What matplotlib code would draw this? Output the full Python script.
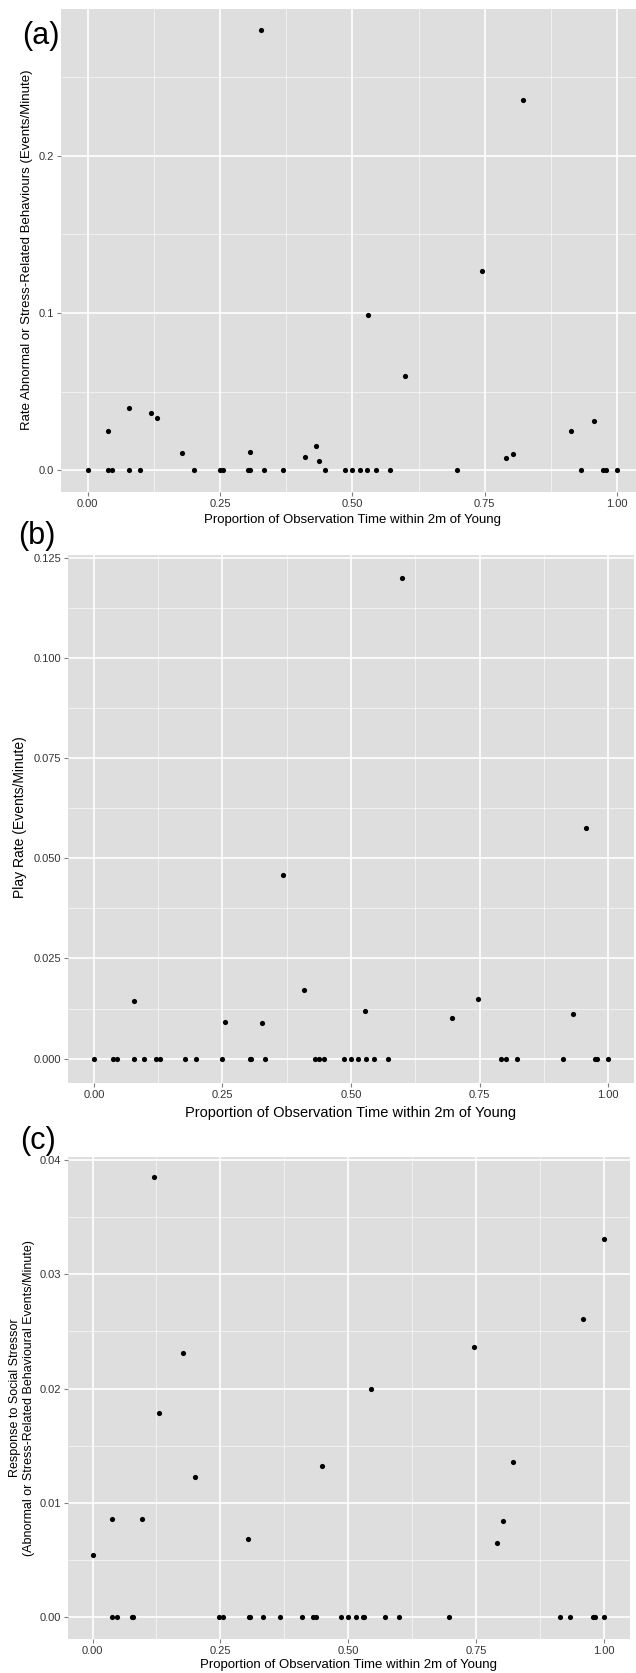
import matplotlib
matplotlib.use("Agg")
import matplotlib.pyplot as plt
from matplotlib.ticker import FixedLocator

plt.rcParams['font.family'] = ['Liberation Sans', 'DejaVu Sans']

# (a) taxa de comportamentos anormais / relacionados a stress
a_x = [0.3275, 0.8225, 0.7445, 0.530, 0.599, 0.0788, 0.0375, 0.120, 0.130,
       0.1775, 0.3068, 0.410, 0.431, 0.436, 0.791, 0.8026, 0.9128, 0.956,
       0.0, 0.039, 0.0467, 0.0788, 0.0987, 0.2005, 0.2494, 0.2563, 0.3037,
       0.3068, 0.3336, 0.368, 0.4484, 0.4858, 0.4996, 0.5149, 0.528, 0.5455,
       0.5715, 0.697, 0.932, 0.9725, 0.979, 1.0]
a_y = [0.280, 0.2357, 0.127, 0.0985, 0.060, 0.0393, 0.0251, 0.0363, 0.0333,
       0.011, 0.0117, 0.0085, 0.0155, 0.0062, 0.0076, 0.0106, 0.0248, 0.0314,
       0, 0, 0, 0, 0, 0, 0, 0, 0, 0, 0, 0, 0, 0, 0, 0, 0, 0, 0, 0, 0, 0, 0, 0]

# (b) taxa de brincadeira
b_x = [0.5986, 0.9566, 0.3675, 0.409, 0.0773, 0.746, 0.527, 0.2555, 0.3265,
       0.6964, 0.9314,
       0.0, 0.0379, 0.0457, 0.078, 0.0978, 0.12, 0.129, 0.1767, 0.1995, 0.249,
       0.303, 0.306, 0.333, 0.4306, 0.437, 0.447, 0.4866, 0.50, 0.514, 0.53,
       0.545, 0.572, 0.791, 0.802, 0.8225, 0.9125, 0.974, 0.979, 1.0]
b_y = [0.120, 0.0576, 0.0459, 0.0171, 0.0143, 0.0150, 0.012, 0.0091, 0.0088,
       0.0101, 0.0112,
       0, 0, 0, 0, 0, 0, 0, 0, 0, 0, 0, 0, 0, 0, 0, 0, 0, 0, 0, 0, 0, 0, 0, 0,
       0, 0, 0, 0, 0]

# (c) resposta ao estressor social
c_x = [0.1194, 1.0, 0.959, 0.177, 0.746, 0.1294, 0.545, 0.200, 0.4484, 0.8225,
       0.7916, 0.8027, 0.304, 0.038, 0.0976, 0.0,
       0.038, 0.047, 0.078, 0.080, 0.248, 0.2556, 0.305, 0.307, 0.333, 0.3675,
       0.41, 0.431, 0.437, 0.4865, 0.499, 0.515, 0.528, 0.531, 0.571, 0.6,
       0.697, 0.9135, 0.933, 0.978, 0.982, 1.0]
c_y = [0.0385, 0.0331, 0.0261, 0.0231, 0.02365, 0.0179, 0.0200, 0.0123, 0.0132,
       0.0136, 0.0065, 0.0084, 0.0068, 0.0086, 0.0086, 0.0054,
       0, 0, 0, 0, 0, 0, 0, 0, 0, 0, 0, 0, 0, 0, 0, 0, 0, 0, 0, 0, 0, 0, 0, 0,
       0, 0]

x_ticks = [0.0, 0.25, 0.5, 0.75, 1.0]
x_labels = ["0.00", "0.25", "0.50", "0.75", "1.00"]
xlabel = "Proportion of Observation Time within 2m of Young"

W, H = 636, 1673
fig = plt.figure(figsize=(W / 100, H / 100), dpi=100)


def eixo(l, t, r, b):
    """Cria um eixo a partir de coordenadas em pixels (topo-esquerda)."""
    return fig.add_axes([l / W, 1 - b / H, (r - l) / W, (b - t) / H])


def estilo(ax, xlim, ylim, yticks, ylabels, ystep):
    ax.set_facecolor('#DEDEDE')
    for s in ax.spines.values():
        s.set_visible(False)
    ax.set_xlim(*xlim)
    ax.set_ylim(*ylim)
    ax.set_xticks(x_ticks)
    ax.set_xticklabels(x_labels)
    ax.set_yticks(yticks)
    ax.set_yticklabels(ylabels)
    ax.xaxis.set_minor_locator(FixedLocator([0.125, 0.375, 0.625, 0.875]))
    ax.yaxis.set_minor_locator(FixedLocator([v + ystep / 2 for v in yticks]))
    ax.grid(True, which='major', color='white', lw=1.2)
    ax.grid(True, which='minor', color='white', lw=0.5, alpha=0.8)
    ax.set_axisbelow(True)
    ax.tick_params(which='major', length=3, width=0.8, color='#808080',
                   labelsize=8, labelcolor='#333333', pad=2)
    ax.tick_params(which='minor', length=0)


def pontos(ax, x, y):
    ax.scatter(x, y, s=14, color='black', linewidths=0, zorder=3)


# ---- painel (a)
ax1 = eixo(61, 9, 636, 491.7)
estilo(ax1, (-0.0504, 1.0357), (-0.0136, 0.2933),
       [0.0, 0.1, 0.2], ["0.0", "0.1", "0.2"], 0.1)
pontos(ax1, a_x, a_y)
fig.text(27 / W, 1 - 250 / H,
         "Rate Abnormal or Stress-Related Behaviours (Events/Minute)",
         rotation=90, ha='center', va='center', fontsize=9.5)
fig.text(352 / W, 1 - 520 / H, xlabel, ha='center', va='center', fontsize=9.5)
fig.text(41 / W, 1 - 36 / H, "(a)", ha='center', va='center', fontsize=22)

# ---- painel (b)
ax2 = eixo(68.3, 555, 634, 1082.7)
estilo(ax2, (-0.0496, 1.05), (-0.006, 0.1257),
       [0.0, 0.025, 0.05, 0.075, 0.1, 0.125],
       ["0.000", "0.025", "0.050", "0.075", "0.100", "0.125"], 0.025)
pontos(ax2, b_x, b_y)
fig.text(20 / W, 1 - 817 / H, "Play Rate (Events/Minute)",
         rotation=90, ha='center', va='center', fontsize=10)
fig.text(351 / W, 1 - 1113 / H, xlabel, ha='center', va='center', fontsize=10.5)
fig.text(37 / W, 1 - 536 / H, "(b)", ha='center', va='center', fontsize=22)

# ---- painel (c)
ax3 = eixo(68, 1156.7, 629.5, 1638.7)
estilo(ax3, (-0.048, 1.0499), (-0.0019, 0.0403),
       [0.0, 0.01, 0.02, 0.03, 0.04],
       ["0.00", "0.01", "0.02", "0.03", "0.04"], 0.01)
pontos(ax3, c_x, c_y)
fig.text(22 / W, 1 - 1398 / H,
         "Response to Social Stressor\n"
         "(Abnormal or Stress-Related Behavioural Events/Minute)",
         rotation=90, ha='center', va='center', fontsize=9, linespacing=1.2,
         multialignment='center')
fig.text(348 / W, 1 - 1665 / H, xlabel, ha='center', va='center', fontsize=9.5)
fig.text(38 / W, 1 - 1141 / H, "(c)", ha='center', va='center', fontsize=22)

fig.savefig("out.png", dpi=100)
